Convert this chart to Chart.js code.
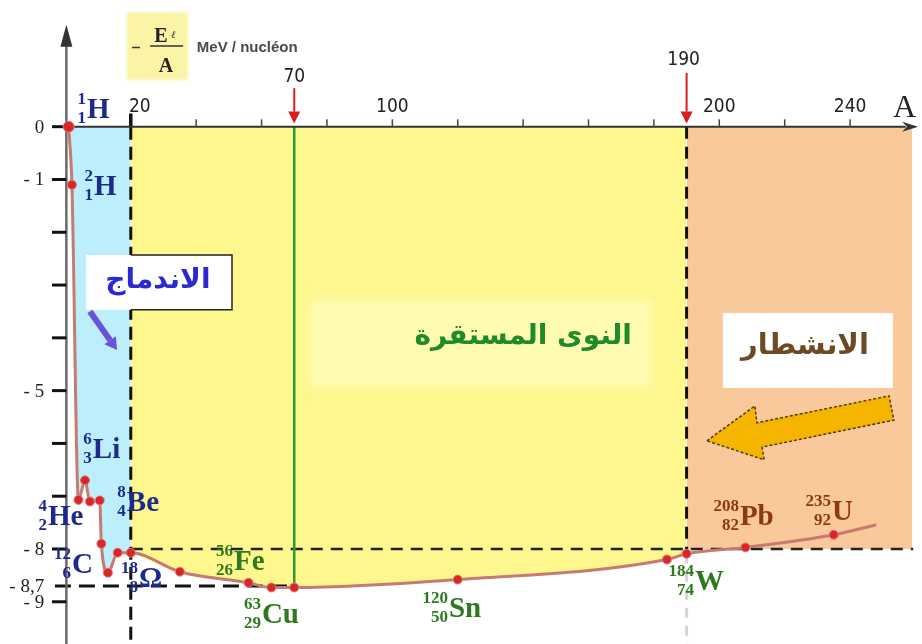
<!DOCTYPE html>
<html>
<head>
<meta charset="utf-8">
<script src="https://cdn.jsdelivr.net/npm/chart.js@4.4.1/dist/chart.umd.min.js"></script>
<style>
  html, body { margin: 0; padding: 0; background: #fff; overflow: hidden; }
  #wrap { width: 922px; height: 644px; }
</style>
</head>
<body>
<div id="wrap"><canvas id="chart"></canvas></div>
<script>
// ===== DATA =====
const massNumbers = [1, 2, 4, 6, 7.5, 10.5, 11, 13, 16, 20, 35, 56, 63, 70, 120, 184, 190, 208, 235, 248];
const energyPerNucleon = [0, -1.1, -7.07, -6.7, -7.1, -7.08, -7.9, -8.45, -8.07, -8.07, -8.43, -8.64, -8.73, -8.73, -8.58, -8.2, -8.09, -7.97, -7.73, -7.54];

const xTickValues = [20, 40, 60, 80, 100, 120, 140, 160, 180, 200, 220, 240];
const xTickLabels = [20, 100, 200, 240];
const yTickValues = [0, -1, -2, -3, -4, -5, -6, -7, -8, -9];
const yTickLabels = [0, -1, -5, -8, -8.7, -9];

const fusionLimit = 20;
const fissionLimit = 190;
const stableLimit = 70;
const plateauLevel = -8;
const minLevel = -8.7;

const nuclides = [
  { sym: "H", mass: 1, z: 1, group: "fusion" },
  { sym: "H", mass: 2, z: 1, group: "fusion" },
  { sym: "Li", mass: 6, z: 3, group: "fusion" },
  { sym: "He", mass: 4, z: 2, group: "fusion" },
  { sym: "Be", mass: 8, z: 4, group: "fusion" },
  { sym: "C", mass: 12, z: 6, group: "fusion" },
  { sym: "Ω", mass: 18, z: 8, group: "fusion" },
  { sym: "Fe", mass: 56, z: 26, group: "stable" },
  { sym: "Cu", mass: 63, z: 29, group: "stable" },
  { sym: "Sn", mass: 120, z: 50, group: "stable" },
  { sym: "W", mass: 184, z: 74, group: "stable" },
  { sym: "Pb", mass: 208, z: 82, group: "fission" },
  { sym: "U", mass: 235, z: 92, group: "fission" },
];

// where each nuclide label sits (A, E of the symbol's left/baseline)
const labelSpots = [
  [6.6, 0.16], [8.75, -1.29], [8.4, -6.28], [-5.3, -7.55], [18.8, -7.28],
  [2.0, -8.45], [22.5, -8.72], [51.6, -8.4], [60.1, -9.4], [117.3, -9.29],
  [192.6, -8.78], [206.3, -7.55], [234.5, -7.45],
];

const points = massNumbers.map((a, i) => ({ x: a, y: energyPerNucleon[i] }));
const fusionPart = points.filter((p) => p.x <= fusionLimit);
const stablePart = points.filter((p) => p.x >= fusionLimit && p.x <= fissionLimit);
const fissionPart = [{ x: fissionLimit, y: plateauLevel }, { x: 259, y: plateauLevel }];

const groupColor = { fusion: "#1c2a8c", stable: "#2f7a1f", fission: "#8a3a0e" };

// ===== HELPERS =====
function line(ctx, x1, y1, x2, y2, color, w, dash) {
  ctx.save();
  ctx.strokeStyle = color;
  ctx.lineWidth = w;
  ctx.setLineDash(dash || []);
  ctx.beginPath();
  ctx.moveTo(x1, y1);
  ctx.lineTo(x2, y2);
  ctx.stroke();
  ctx.restore();
}

function arrow(ctx, x1, y1, x2, y2, color, w, head, half) {
  const ang = Math.atan2(y2 - y1, x2 - x1);
  const bx = x2 - Math.cos(ang) * head;
  const by = y2 - Math.sin(ang) * head;
  line(ctx, x1, y1, bx, by, color, w);
  ctx.save();
  ctx.fillStyle = color;
  ctx.beginPath();
  ctx.moveTo(x2, y2);
  ctx.lineTo(bx + Math.sin(ang) * half, by - Math.cos(ang) * half);
  ctx.lineTo(bx - Math.sin(ang) * half, by + Math.cos(ang) * half);
  ctx.closePath();
  ctx.fill();
  ctx.restore();
}

function drawNuclide(ctx, x, y, n) {
  ctx.save();
  ctx.fillStyle = groupColor[n.group];
  ctx.textBaseline = "alphabetic";
  ctx.font = "bold 29px 'Liberation Serif', 'DejaVu Serif', serif";
  ctx.textAlign = "left";
  ctx.fillText(n.sym, x, y);
  ctx.font = "bold 17px 'Liberation Serif', 'DejaVu Serif', serif";
  ctx.textAlign = "right";
  ctx.fillText(String(n.mass), x - 1, y - 14);
  ctx.fillText(String(n.z), x - 1, y + 5);
  ctx.restore();
}

const decor = {
  id: "decor",
  beforeDatasetsDraw(chart) {
    const ctx = chart.ctx;
    const X = (v) => chart.scales.x.getPixelForValue(v);
    const Y = (v) => chart.scales.y.getPixelForValue(v);

    // lighter patch behind stable label
    ctx.save();
    ctx.fillStyle = "rgba(255,253,190,0.75)";
    ctx.filter = "blur(4px)";
    ctx.fillRect(X(74.8), Y(-3.28), X(179.4) - X(74.8), Y(-4.93) - Y(-3.28));
    ctx.restore();

    // dashed guides
    line(ctx, X(fusionLimit), Y(0.25), X(fusionLimit), Y(0), "#111", 3.5);
    line(ctx, X(fusionLimit), Y(0), X(fusionLimit), Y(-9.8), "#111", 3, [13, 7]);
    line(ctx, X(fissionLimit), Y(0), X(fissionLimit), Y(-8.09), "#111", 3, [12, 8]);
    line(ctx, X(fissionLimit), Y(-8.09), X(fissionLimit), Y(-9.8), "#d4d4d4", 3, [10, 8]);
    line(ctx, X(fusionLimit), Y(plateauLevel), X(259.3), Y(plateauLevel), "#222", 2.5, [12, 8]);
    line(ctx, X(-3.2), Y(minLevel), X(stableLimit), Y(minLevel), "#111", 3, [16, 8]);
    line(ctx, X(stableLimit), Y(0), X(stableLimit), Y(-8.73), "#2f9a2f", 2.5);

    // y axis
    line(ctx, X(0.3), Y(-9.8), X(0.3), Y(1.6), "#6a6a6a", 2.5);
    ctx.save();
    ctx.fillStyle = "#333";
    ctx.beginPath();
    ctx.moveTo(X(0.3), Y(1.93));
    ctx.lineTo(X(0.3) - 6, Y(1.93) + 22);
    ctx.lineTo(X(0.3) + 6, Y(1.93) + 22);
    ctx.closePath();
    ctx.fill();
    ctx.restore();
    yTickValues.forEach((v) => line(ctx, X(-4.1), Y(v), X(0.3), Y(v), "#111", 3));

    // x axis
    line(ctx, X(0.3), Y(0), X(257), Y(0), "#333", 2);
    ctx.save();
    ctx.fillStyle = "#333";
    ctx.beginPath();
    ctx.moveTo(X(260.8), Y(0));
    ctx.lineTo(X(260.8) - 16, Y(0) - 5);
    ctx.lineTo(X(260.8) - 11, Y(0));
    ctx.lineTo(X(260.8) - 16, Y(0) + 5);
    ctx.closePath();
    ctx.fill();
    ctx.restore();
    xTickValues.forEach((v) => {
      if (v !== fusionLimit) line(ctx, X(v), Y(0), X(v), Y(0.14), "#444", 1.5);
    });
  },
  afterDatasetsDraw(chart) {
    const ctx = chart.ctx;
    const X = (v) => chart.scales.x.getPixelForValue(v);
    const Y = (v) => chart.scales.y.getPixelForValue(v);

    // tick labels
    ctx.save();
    ctx.fillStyle = "#222";
    ctx.font = "19px 'Liberation Sans Narrow', 'DejaVu Sans Condensed', 'Liberation Sans', sans-serif";
    ctx.textAlign = "center";
    ctx.textBaseline = "alphabetic";
    xTickLabels.forEach((v) => {
      const dx = v === fusionLimit ? 9 : 0;
      ctx.fillText(String(v), X(v) + dx, Y(0.27));
    });
    ctx.fillText(String(stableLimit), X(stableLimit), Y(0.847));
    ctx.fillText(String(fissionLimit), X(fissionLimit) - 3, Y(1.168));
    ctx.font = "32px 'Liberation Serif', serif";
    ctx.textAlign = "left";
    ctx.fillText("A", X(253.1), Y(0.184));

    ctx.font = "19px 'Liberation Serif', serif";
    ctx.textAlign = "right";
    ctx.textBaseline = "middle";
    yTickLabels.forEach((v) => {
      const txt = v === 0 ? "0" : "- " + String(Math.abs(v)).replace(".", ",");
      ctx.fillText(txt, X(-6.5), Y(v) + 1);
    });
    ctx.restore();

    // red arrows for 70 and 190
    arrow(ctx, X(stableLimit), Y(0.73), X(stableLimit), Y(0.06), "#d81e1e", 2, 12, 6);
    arrow(ctx, X(fissionLimit), Y(1.02), X(fissionLimit), Y(0.06), "#d81e1e", 2, 12, 6);

    // y-axis title box
    ctx.save();
    ctx.fillStyle = "#fbf4a6";
    ctx.filter = "blur(1.5px)";
    ctx.fillRect(X(18.8), Y(2.17), X(37.5) - X(18.8), Y(0.885) - Y(2.17));
    ctx.restore();
    ctx.save();
    ctx.fillStyle = "#222";
    line(ctx, X(20.4), Y(1.5), X(22.8), Y(1.5), "#333", 1.5);
    line(ctx, X(25.9), Y(1.53), X(36.0), Y(1.53), "#333", 1.5);
    ctx.font = "bold 20px 'Liberation Serif', serif";
    ctx.textAlign = "center";
    ctx.textBaseline = "alphabetic";
    ctx.fillText("E", X(29.2), Y(1.6));
    ctx.fillText("A", X(30.8), Y(1.04));
    ctx.font = "italic 10px 'Liberation Serif', serif";
    ctx.fillText("ℓ", X(33.0), Y(1.68));
    ctx.fillStyle = "#4a4a4a";
    ctx.font = "bold 15px 'Liberation Sans', 'Arial', sans-serif";
    ctx.textAlign = "left";
    ctx.textBaseline = "middle";
    ctx.fillText("MeV / nucléon", X(40.2), Y(1.49));
    ctx.restore();

    // fusion box
    ctx.save();
    ctx.fillStyle = "#fff";
    ctx.fillRect(X(6.3), Y(-2.43), X(50.96) - X(6.3), Y(-3.47) - Y(-2.43));
    ctx.strokeStyle = "#222";
    ctx.lineWidth = 1.5;
    ctx.beginPath();
    ctx.moveTo(X(fusionLimit), Y(-2.43));
    ctx.lineTo(X(50.96), Y(-2.43));
    ctx.lineTo(X(50.96), Y(-3.47));
    ctx.lineTo(X(fusionLimit), Y(-3.47));
    ctx.stroke();
    ctx.fillStyle = "#2a2ad0";
    ctx.font = "bold 28px 'DejaVu Sans', sans-serif";
    ctx.textAlign = "center";
    ctx.textBaseline = "alphabetic";
    ctx.direction = "rtl";
    ctx.fillText("الاندماج", X(28.3), Y(-3.05));
    ctx.restore();
    arrow(ctx, X(7.5), Y(-3.5), X(15.8), Y(-4.23), "#6b52d6", 6, 12, 7);

    // stable nuclei text
    ctx.save();
    ctx.fillStyle = "#1e8a28";
    ctx.font = "bold 28px 'DejaVu Sans', sans-serif";
    ctx.textAlign = "center";
    ctx.direction = "rtl";
    ctx.fillText("النوى المستقرة", X(140), Y(-4.12));
    ctx.restore();

    // fission box + arrow
    ctx.save();
    ctx.fillStyle = "#fff";
    ctx.fillRect(X(201.1), Y(-3.53), X(253.1) - X(201.1), Y(-4.95) - Y(-3.53));
    ctx.fillStyle = "#6b4a24";
    ctx.font = "bold 29px 'DejaVu Sans', sans-serif";
    ctx.textAlign = "center";
    ctx.direction = "rtl";
    ctx.fillText("الانشطار", X(226.2), Y(-4.3));
    const gold = [[196.2, -5.95], [210.9, -5.29], [211.5, -5.61], [251.9, -5.1], [253.4, -5.56], [213.1, -6.07], [213.7, -6.31]];
    ctx.beginPath();
    gold.forEach((p, i) => (i ? ctx.lineTo(X(p[0]), Y(p[1])) : ctx.moveTo(X(p[0]), Y(p[1]))));
    ctx.closePath();
    ctx.fillStyle = "#f4b400";
    ctx.fill();
    ctx.strokeStyle = "#4a3a10";
    ctx.lineWidth = 1.5;
    ctx.setLineDash([3, 2]);
    ctx.stroke();
    ctx.restore();

    // nuclide labels
    nuclides.forEach((n, i) => drawNuclide(ctx, X(labelSpots[i][0]), Y(labelSpots[i][1]), n));
  },
};

// ===== CHART =====
const fillSet = (data, color, order) => ({
  data,
  showLine: true,
  borderWidth: 0,
  borderColor: "rgba(0,0,0,0)",
  pointRadius: 0,
  backgroundColor: color,
  fill: { value: 0 },
  cubicInterpolationMode: "monotone",
  order,
});

new Chart(document.getElementById("chart"), {
  type: "line",
  data: {
    datasets: [
      {
        label: "-E/A",
        data: points,
        borderColor: "#c77b70",
        borderWidth: 3,
        cubicInterpolationMode: "monotone",
        pointBackgroundColor: "#d62828",
        pointBorderColor: "#e27a7a",
        pointBorderWidth: 1,
        pointRadius: (c) => (c.dataIndex === points.length - 1 ? 0 : c.dataIndex === 0 ? 5.5 : 4.5),
        fill: false,
        order: 0,
      },
      fillSet(fusionPart, "#bdeefb", 3),
      fillSet(stablePart, "#fdf78e", 2),
      fillSet(fissionPart, "#fac99b", 1),
    ],
  },
  options: {
    responsive: true,
    maintainAspectRatio: false,
    animation: false,
    layout: { padding: 0, autoPadding: false },
    plugins: {
      legend: { display: false },
      tooltip: { enabled: false },
      filler: { drawTime: "beforeDatasetsDraw" },
    },
    scales: {
      x: { type: "linear", min: -20, max: 262, display: false },
      y: { type: "linear", min: -9.8, max: 2.4, display: false },
    },
  },
  plugins: [decor],
});
</script>
</body>
</html>
